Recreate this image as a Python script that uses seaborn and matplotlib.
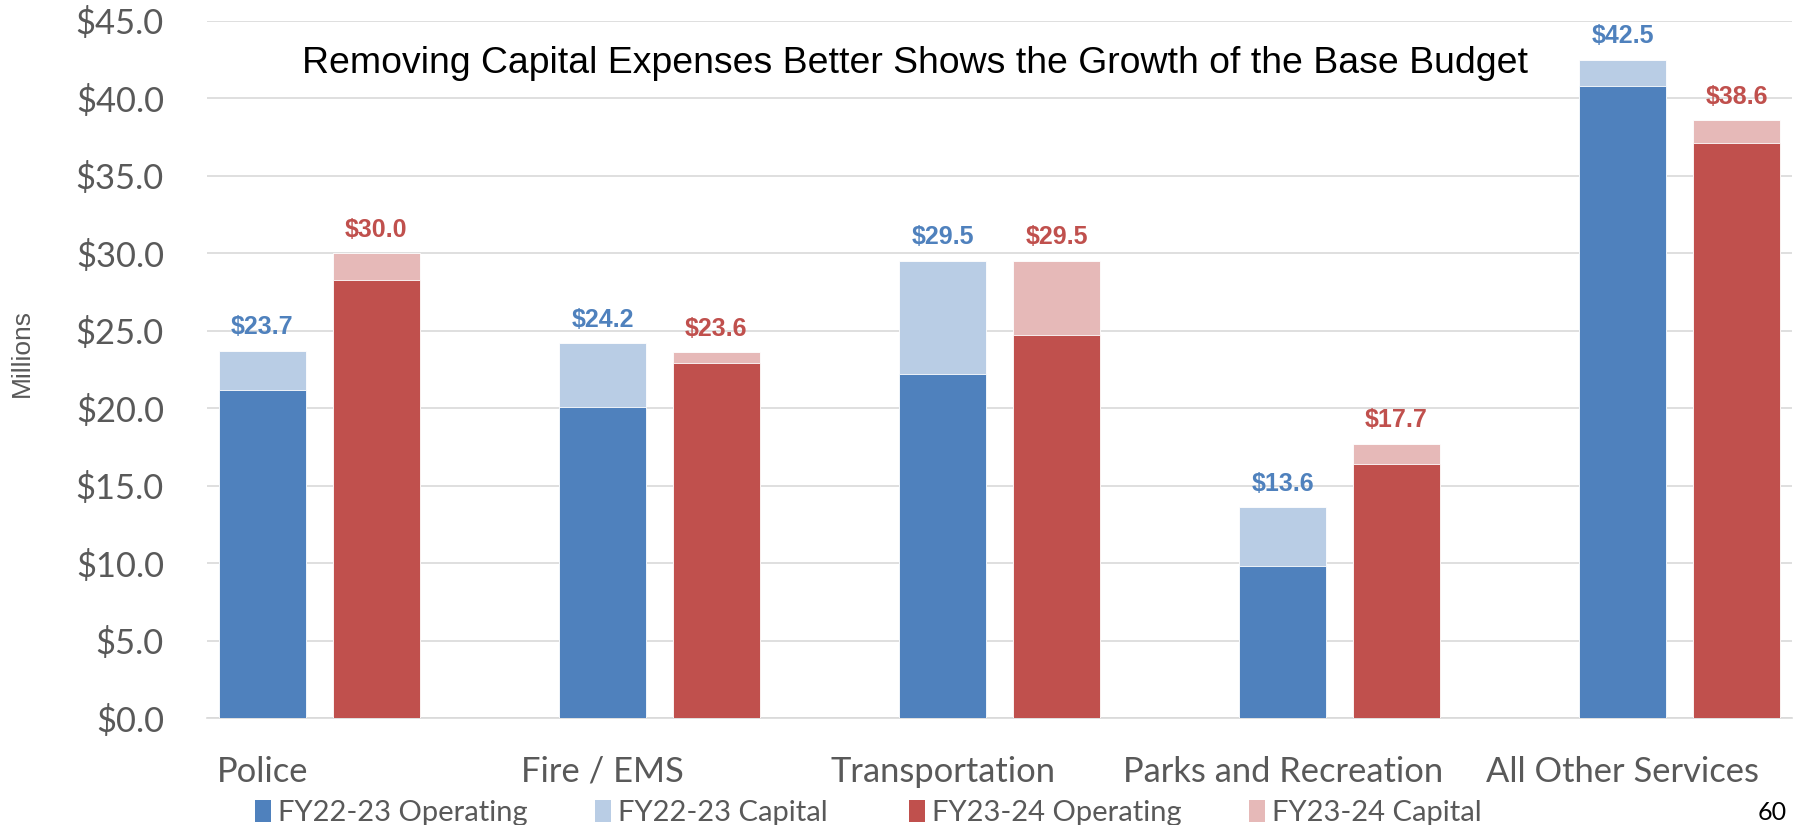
import matplotlib
matplotlib.use("Agg")
import matplotlib.pyplot as plt
from matplotlib.patches import Patch
import seaborn as sns
import numpy as np
import pandas as pd

# ---- data ----
categories = ["Police", "Fire / EMS", "Transportation", "Parks and Recreation", "All Other Services"]
fy22_operating = [21.2, 20.1, 22.2, 9.8, 40.8]
fy22_capital = [2.5, 4.1, 7.3, 3.8, 1.7]
fy23_operating = [28.3, 22.9, 24.7, 16.4, 37.1]
fy23_capital = [1.7, 0.7, 4.8, 1.3, 1.5]
series_labels = ["FY22-23 Operating", "FY22-23 Capital", "FY23-24 Operating", "FY23-24 Capital"]
y_ticks = [0, 5, 10, 15, 20, 25, 30, 35, 40, 45]
title_text = "Removing Capital Expenses Better Shows the Growth of the Base Budget"

# ---- styling ----
BLUE = "#4F81BD"
BLUE_L = "#B9CDE5"
RED = "#C0504D"
RED_L = "#E6B9B8"
GRAY_TXT = "#595959"
GRID = "#D9D9D9"

sns.set_theme(style="white")
plt.rcParams["font.family"] = ["Lato", "DejaVu Sans"]

W, H = 1800, 825
fig = plt.figure(figsize=(W / 100, H / 100), dpi=100)
ax = fig.add_axes([207 / W, 1 - 718 / H, (1792 - 207) / W, (718 - 21) / H])

offset = 0.335
pos_blue = np.arange(len(categories), dtype=float)
pos_red = pos_blue + offset

fy22_total = [o + c for o, c in zip(fy22_operating, fy22_capital)]
fy23_total = [o + c for o, c in zip(fy23_operating, fy23_capital)]

df22 = pd.DataFrame({"x": pos_blue, "total": fy22_total, "op": fy22_operating})
df23 = pd.DataFrame({"x": pos_red, "total": fy23_total, "op": fy23_operating})

bw = 0.256
common = dict(native_scale=True, width=bw, errorbar=None, ax=ax,
              edgecolor="white", linewidth=0.6, zorder=3)
sns.barplot(data=df22, x="x", y="total", color=BLUE_L, saturation=1, **common)
sns.barplot(data=df22, x="x", y="op", color=BLUE, saturation=1, **common)
sns.barplot(data=df23, x="x", y="total", color=RED_L, saturation=1, **common)
sns.barplot(data=df23, x="x", y="op", color=RED, saturation=1, **common)

# data labels
lab_font = ["Liberation Sans", "DejaVu Sans"]
for x, t in zip(pos_blue, fy22_total):
    ax.annotate(f"${t:.1f}", (x, t), xytext=(0, 17), textcoords="offset points",
                ha="center", va="center", color=BLUE, fontsize=18,
                fontweight="bold", family=lab_font, zorder=5)
for x, t in zip(pos_red, fy23_total):
    ax.annotate(f"${t:.1f}", (x, t), xytext=(0, 17), textcoords="offset points",
                ha="center", va="center", color=RED, fontsize=18,
                fontweight="bold", family=lab_font, zorder=5)

# axes
ax.set_ylim(0, 45)
ax.set_xlim(-0.163, 4.498)
ax.set_yticks(y_ticks)
ax.set_yticklabels([f"${v:.1f}" for v in y_ticks])
ax.set_xticks(pos_blue)
ax.set_xticklabels(categories)
ax.tick_params(axis="y", length=0, pad=31, labelsize=24.8, labelcolor=GRAY_TXT)
ax.tick_params(axis="x", length=0, pad=27, labelsize=24.8, labelcolor=GRAY_TXT)
ax.set_xlabel("")
ax.set_ylabel("")
ax.yaxis.grid(True, color=GRID, linewidth=1.2, zorder=0)
ax.xaxis.grid(False)
ax.set_axisbelow(True)
for s in ["top", "right", "left"]:
    ax.spines[s].set_visible(False)
ax.spines["bottom"].set_color(GRID)
ax.spines["bottom"].set_linewidth(1.2)

# y axis title
fig.text(22 / W, 1 - 353 / H, "Millions", rotation=90, ha="center", va="center",
         fontsize=19, color=GRAY_TXT, family=lab_font)

# chart title inside plot
fig.text((302 + 1527) / 2 / W, 1 - 73 / H, title_text, ha="center", va="baseline",
         fontsize=26.9, color="black", family=lab_font)

# legend: one entry per position, as in the original layout
legend_x = [255, 595, 909, 1249]
for lx, col, lab in zip(legend_x, [BLUE, BLUE_L, RED, RED_L], series_labels):
    leg = fig.legend([Patch(facecolor=col, edgecolor="none")], [lab], loc="center left",
                     bbox_to_anchor=(lx / W, 1 - 813 / H), frameon=False,
                     fontsize=21, handlelength=0.55, handleheight=0.8,
                     handletextpad=0.25, borderpad=0, borderaxespad=0)
    for t in leg.get_texts():
        t.set_color(GRAY_TXT)

# page number
fig.text(1772 / W, 1 - 813 / H, "60", ha="center", va="center", fontsize=18, color="black")

fig.savefig("out.png", dpi=100)
